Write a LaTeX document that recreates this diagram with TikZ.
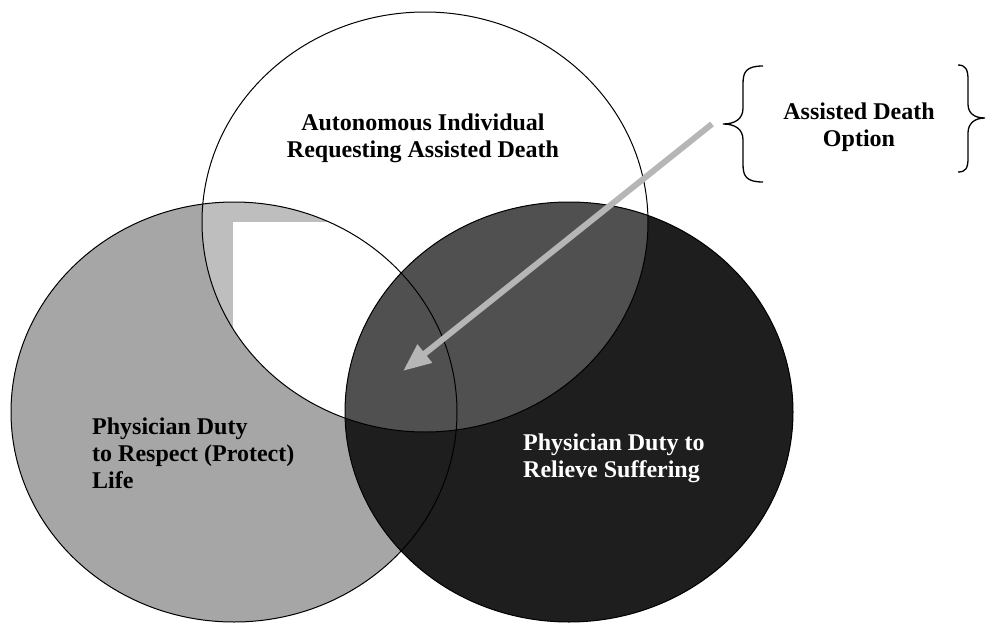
\documentclass[tikz,border=0pt]{standalone}
\usepackage{fontspec}
\setmainfont{Liberation Serif}
\usetikzlibrary{arrows.meta,positioning}
\definecolor{lgray}{RGB}{166,166,166}
\definecolor{pgray}{RGB}{190,190,190}
\definecolor{dgray}{RGB}{30,30,30}
\definecolor{mgray}{RGB}{80,80,80}
\definecolor{agray}{RGB}{182,182,182}
\tikzset{
  rim/.style={black,line width=1pt},
  lbl/.style={font=\bfseries\fontsize{24}{27}\selectfont,inner sep=0pt},
  brc/.style={line width=1.3pt,black},
  pointer/.style={-{Triangle[length=28pt,width=22pt]},line width=6pt,agray}
}
\def\autoell{(425,222) ellipse [x radius=223pt, y radius=210pt]}
\def\lifeell{(234,412) ellipse [x radius=223pt, y radius=210pt]}
\def\suffell{(569,412) ellipse [x radius=224pt, y radius=210pt]}

\begin{document}
\begin{tikzpicture}[x=1pt,y=-1pt]
  \useasboundingbox (0,0) rectangle (986,624);
  % three circles
  \fill[lgray] \lifeell;
  \begin{scope}
    \clip \lifeell;
    \clip \autoell;
    \fill[pgray] (0,0) rectangle (986,624);
    \fill[white] (233,222) rectangle (470,640);
  \end{scope}
  \fill[dgray] \suffell;
  \begin{scope}
    \clip \suffell;
    \fill[mgray] \autoell;
  \end{scope}
  \draw[rim] \autoell;
  \draw[rim] \lifeell;
  \draw[rim] \suffell;
  % labels
  \node[lbl,align=center] (autotxt) at (423,138) {Autonomous Individual\\Requesting Assisted Death};
  \node[lbl,align=left,anchor=west] (lifetxt) at (92,453) {Physician Duty\\to Respect (Protect)\\Life};
  \node[lbl,align=left,anchor=west,white] (suffertxt) at (523,458) {Physician Duty to\\Relieve Suffering};
  \node[lbl,align=center] (opttxt) at (859,127) {Assisted Death\\Option};
  % braces round the option
  \draw[brc] (763,66) .. controls (746,66) and (743,72) .. (743,84) -- (743,108)
    .. controls (743,119) and (735,124) .. (723,124)
    .. controls (735,124) and (743,129) .. (743,140) -- (743,164)
    .. controls (743,176) and (746,182) .. (763,182);
  \draw[brc] (958,65) .. controls (966,65) and (968,70) .. (968,80) -- (968,104)
    .. controls (968,113) and (974,118) .. (985,118)
    .. controls (974,118) and (968,124) .. (968,133) -- (968,158)
    .. controls (968,168) and (966,172) .. (958,172);
  % arrow into the overlap
  \coordinate (tail) at (712,124);
  \coordinate (head) at (403,371);
  \draw[pointer] (tail) -- (head);
\end{tikzpicture}
\end{document}
